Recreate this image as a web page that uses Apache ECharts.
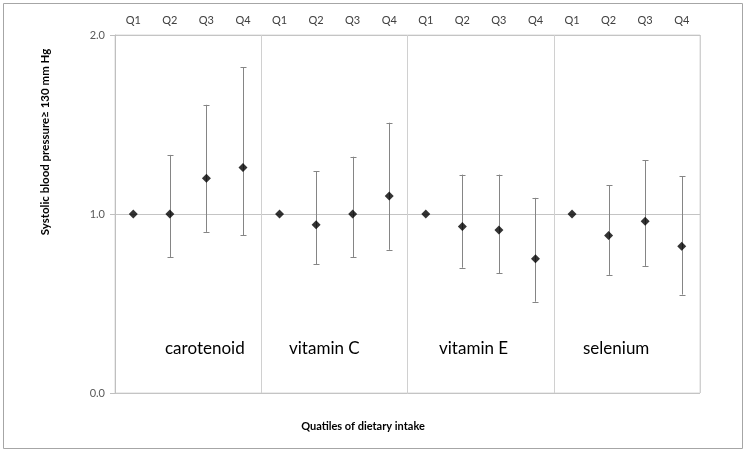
<!DOCTYPE html>
<html>
<head>
<meta charset="utf-8">
<script src="https://cdn.jsdelivr.net/npm/echarts@6/dist/echarts.min.js"></script>
<style>
html,body{margin:0;padding:0;background:#fff;}
#chart{width:745px;height:452px;}
</style>
</head>
<body>
<div id="chart"></div>
<script>
// ---- data ----
var quartiles = ['Q1','Q2','Q3','Q4'];
var nutrients = ['carotenoid','vitamin C','vitamin E','selenium'];
var categories = [];
nutrients.forEach(function(){ quartiles.forEach(function(q){ categories.push(q); }); });
var orValues = [1.00,1.00,1.20,1.26, 1.00,0.94,1.00,1.10, 1.00,0.93,0.91,0.75, 1.00,0.88,0.96,0.82];
var ciLower  = [null,0.76,0.90,0.88, null,0.72,0.76,0.80, null,0.70,0.67,0.51, null,0.66,0.71,0.55];
var ciUpper  = [null,1.33,1.61,1.82, null,1.24,1.32,1.51, null,1.22,1.22,1.09, null,1.16,1.30,1.21];
var yTicks = [0, 1, 2];
var yTitle = 'Systolic blood pressure\u2265 130 mm Hg';
var xTitle = 'Quatiles of dietary intake';

var FONT = 'Lato, "Open Sans", sans-serif';

var pointData = orValues.map(function(v, i){ return [i, v]; });
var errData = [];
for (var i = 0; i < orValues.length; i++) {
  if (ciLower[i] != null) errData.push([i, ciLower[i], ciUpper[i]]);
}

var chart = echarts.init(document.getElementById('chart'), null, {renderer:'canvas'});

var labelLefts = [165, 289, 439, 583];

var option = {
  animation: false,
  backgroundColor: '#fff',
  grid: {left: 115, right: 45, top: 35, bottom: 59, show: true, borderColor: '#d9d9d9', borderWidth: 1, backgroundColor: 'transparent'},
  xAxis: {
    type: 'category',
    data: categories,
    position: 'top',
    boundaryGap: true,
    axisLine: {show: false},
    axisTick: {show: false},
    axisLabel: {color: '#404040', fontFamily: FONT, fontSize: 11, margin: 9, interval: 0},
    splitLine: {show: true, interval: function(idx){ return idx % 4 === 0; }, lineStyle: {color: '#d0d0d0', width: 1}}
  },
  yAxis: {
    type: 'value',
    min: yTicks[0], max: yTicks[yTicks.length-1], interval: 1,
    axisLine: {show: true, lineStyle: {color: '#bfbfbf'}},
    axisTick: {show: true, length: 5, lineStyle: {color: '#bfbfbf'}},
    axisLabel: {color: '#595959', fontFamily: FONT, fontSize: 11, margin: 10, formatter: function(v){ return v.toFixed(1); }},
    splitLine: {show: true, lineStyle: {color: '#c4c4c4', width: 1}}
  },
  series: [
    {
      type: 'custom',
      data: errData,
      z: 2,
      renderItem: function(params, api){
        var lo = api.coord([api.value(0), api.value(1)]);
        var hi = api.coord([api.value(0), api.value(2)]);
        var x = Math.round(lo[0]) + 0.5;
        var hw = 3;
        var style = {stroke: '#858585', lineWidth: 1};
        return {
          type: 'group',
          children: [
            {type:'line', shape:{x1:x, y1:hi[1], x2:x, y2:lo[1]}, style: style},
            {type:'line', shape:{x1:x-hw, y1:Math.round(hi[1])+0.5, x2:x+hw, y2:Math.round(hi[1])+0.5}, style: style},
            {type:'line', shape:{x1:x-hw, y1:Math.round(lo[1])+0.5, x2:x+hw, y2:Math.round(lo[1])+0.5}, style: style}
          ]
        };
      }
    },
    {
      type: 'scatter',
      data: pointData,
      symbol: 'diamond',
      symbolSize: 9,
      z: 3,
      itemStyle: {color: '#000'}
    }
  ],
  graphic: [
    {type:'rect', shape:{x:3.5, y:3.5, width:739, height:445}, style:{fill:'none', stroke:'#a6a6a6', lineWidth:1}, z:-1},
    {type:'text', x:45, y:142, rotation: Math.PI/2, style:{text: yTitle, font:'bold 11.5px ' + FONT, fill:'#000', align:'center', verticalAlign:'middle'}},
    {type:'text', x:363, y:426, style:{text: xTitle, font:'bold 11px ' + FONT, fill:'#000', align:'center', verticalAlign:'middle'}}
  ].concat(nutrients.map(function(n, k){
    return {type:'text', x: labelLefts[k], y: 349, style:{text: n, font:'17px ' + FONT, fill:'#000', align:'left', verticalAlign:'middle'}};
  }))
};
chart.setOption(option);
</script>
</body>
</html>
